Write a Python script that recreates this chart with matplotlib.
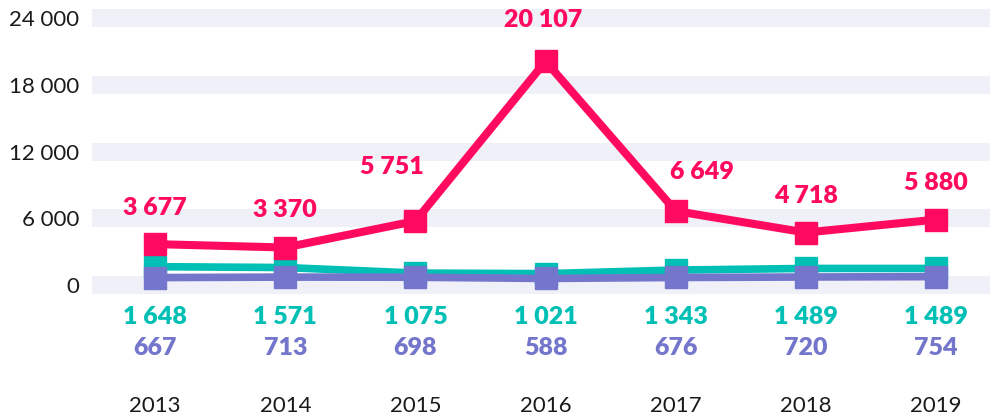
import matplotlib.pyplot as plt

# Data
years = ["2013", "2014", "2015", "2016", "2017", "2018", "2019"]
pink_values = [3677, 3370, 5751, 20107, 6649, 4718, 5880]
teal_values = [1648, 1571, 1075, 1021, 1343, 1489, 1489]
purple_values = [667, 713, 698, 588, 676, 720, 754]
y_ticks = [0, 6000, 12000, 18000, 24000]

# label offsets (points) for the pink series
pink_offsets = [(0, 26), (0, 27), (-17, 39), (-2, 30), (19, 28), (0, 26), (0, 26)]

pink = "#FF0A5E"
teal = "#00C0B6"
purple = "#7476CC"
band = "#F0F0F8"

plt.rcParams['font.family'] = ['Lato', 'DejaVu Sans']

fig = plt.figure(figsize=(10, 4.17), dpi=100)
ax = fig.add_axes([0.092, 0.2845, 0.898, 0.7043])

x = list(range(len(years)))

ax.plot(x, teal_values, color=teal, lw=5.5, marker="s", ms=16, zorder=3, clip_on=False)
ax.plot(x, purple_values, color=purple, lw=5.5, marker="s", ms=16, zorder=4, clip_on=False)
ax.plot(x, pink_values, color=pink, lw=5.8, marker="s", ms=16, zorder=5, clip_on=False)

def fmt(v):
    return f"{v:,}".replace(",", " ")

for i in x:
    dx, dy = pink_offsets[i]
    ax.annotate(fmt(pink_values[i]), (i, pink_values[i]),
                xytext=(dx, dy), textcoords="offset points", ha="center", va="center",
                color=pink, fontsize=18, fontweight="heavy")
    ax.annotate(fmt(teal_values[i]), (i, 0),
                xytext=(0, -23), textcoords="offset points", ha="center", va="center",
                color=teal, fontsize=18, fontweight="heavy")
    ax.annotate(fmt(purple_values[i]), (i, 0),
                xytext=(0, -45), textcoords="offset points", ha="center", va="center",
                color=purple, fontsize=18, fontweight="heavy")

ax.set_xlim(-0.485, 6.415)
ax.set_ylim(-1200, 25200)
ax.set_yticks(y_ticks)
ax.set_yticklabels([fmt(v) for v in y_ticks])
ax.set_xticks(x)
ax.set_xticklabels(years)
ax.tick_params(axis="both", length=0, labelsize=16, colors="#1a1a1a")
ax.tick_params(axis="y", pad=9)
ax.tick_params(axis="x", pad=70)

ax.yaxis.grid(True, color=band, lw=13)
ax.set_axisbelow(True)
for s in ax.spines.values():
    s.set_visible(False)

plt.savefig("out.png", dpi=100)
